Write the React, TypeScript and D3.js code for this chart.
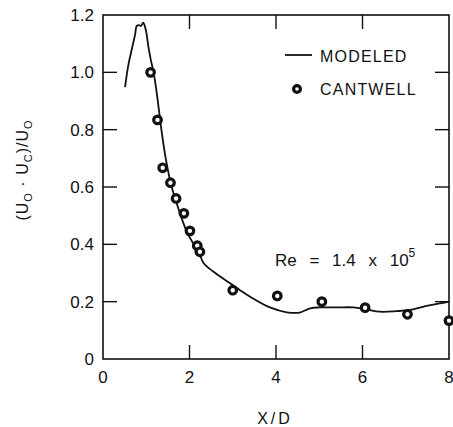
import React from "react";
import * as d3 from "d3";

// Modeled centreline velocity deficit (X/D, value)
const modeledX = [0.51, 0.58, 0.66, 0.74, 0.78, 0.83, 0.88, 0.93, 0.99, 1.05, 1.11, 1.17, 1.25, 1.35, 1.45, 1.58, 1.7, 1.82, 1.95, 2.1, 2.22, 2.32, 2.55, 2.94, 3.17, 3.47, 3.86, 4.25, 4.55, 4.79, 5.02, 5.4, 5.79, 6.09, 6.4, 6.79, 7.1, 7.48, 7.79, 8.0];
const modeledY = [0.948, 1.02, 1.077, 1.13, 1.162, 1.165, 1.162, 1.173, 1.148, 1.089, 1.04, 1.0, 0.92, 0.8, 0.7, 0.605, 0.545, 0.49, 0.44, 0.4, 0.372, 0.336, 0.305, 0.264, 0.24, 0.211, 0.18, 0.163, 0.162, 0.177, 0.18, 0.18, 0.18, 0.173, 0.165, 0.167, 0.171, 0.185, 0.194, 0.2];

// Cantwell measurements
const cantwellX = [1.1, 1.26, 1.38, 1.56, 1.69, 1.87, 2.01, 2.18, 2.24, 3.0, 4.03, 5.06, 6.06, 7.04, 8.0];
const cantwellY = [1.0, 0.834, 0.667, 0.615, 0.56, 0.508, 0.447, 0.395, 0.374, 0.24, 0.22, 0.2, 0.179, 0.156, 0.134];

const xTicks = [0, 2, 4, 6, 8];
const yTicks = [0, 0.2, 0.4, 0.6, 0.8, 1.0, 1.2];
const xTickLabels = ["0", "2", "4", "6", "8"];
const yTickLabels = ["0", "0.2", "0.4", "0.6", "0.8", "1.0", "1.2"];

const W = 453;
const H = 427;
const font = "'Liberation Sans', Arial, Helvetica, sans-serif";

export default function App() {
  const x = d3.scaleLinear().domain([0, 8]).range([103, 449]);
  const y = d3.scaleLinear().domain([0, 1.2]).range([359, 15]);

  const modeled = modeledX.map((v, i) => [v, modeledY[i]] as [number, number]);
  const line = d3
    .line<[number, number]>()
    .x((d) => x(d[0]))
    .y((d) => y(d[1]))
    .curve(d3.curveCatmullRom.alpha(0.5));

  const innerX = [2, 4, 6];
  const innerY = [0.2, 0.4, 0.6, 0.8, 1.0];
  const tickLen = 14;

  return (
    <svg
      width={W}
      height={H}
      style={{ position: "absolute", left: 0, top: 0, background: "#fff" }}
      fontFamily={font}
    >
      {/* frame */}
      <rect
        x={x(0)}
        y={y(1.2)}
        width={x(8) - x(0)}
        height={y(0) - y(1.2)}
        fill="none"
        stroke="#111"
        strokeWidth={1.6}
      />

      {/* inward ticks */}
      {innerY.map((v) => (
        <g key={"yt" + v}>
          <line x1={x(0)} x2={x(0) + tickLen} y1={y(v)} y2={y(v)} stroke="#111" strokeWidth={1.4} />
          <line x1={x(8)} x2={x(8) - tickLen} y1={y(v)} y2={y(v)} stroke="#111" strokeWidth={1.4} />
        </g>
      ))}
      {innerX.map((v) => (
        <g key={"xt" + v}>
          <line x1={x(v)} x2={x(v)} y1={y(0)} y2={y(0) - tickLen} stroke="#111" strokeWidth={1.4} />
          <line x1={x(v)} x2={x(v)} y1={y(1.2)} y2={y(1.2) + tickLen} stroke="#111" strokeWidth={1.4} />
        </g>
      ))}

      {/* tick labels */}
      {yTicks.map((v, i) => (
        <text key={"yl" + v} x={94} y={y(v) + 6} textAnchor="end" fontSize={17} fill="#111">
          {yTickLabels[i]}
        </text>
      ))}
      {xTicks.map((v, i) => (
        <text key={"xl" + v} x={x(v)} y={383} textAnchor="middle" fontSize={17} fill="#111">
          {xTickLabels[i]}
        </text>
      ))}

      {/* axis titles */}
      <text x={275} y={424} textAnchor="middle" fontSize={16} letterSpacing={3} fill="#111">
        X/D
      </text>
      <text
        transform="translate(28,170) rotate(-90)"
        textAnchor="middle"
        fontSize={16}
        letterSpacing={1}
        fill="#111"
      >
        (U<tspan fontSize={11} dy={4}>O</tspan>
        <tspan dy={-4}> · U</tspan>
        <tspan fontSize={11} dy={4}>C</tspan>
        <tspan dy={-4}>)/U</tspan>
        <tspan fontSize={11} dy={4}>O</tspan>
      </text>

      {/* modeled curve */}
      <path d={line(modeled) ?? ""} fill="none" stroke="#111" strokeWidth={1.8} />

      {/* measurements */}
      {cantwellX.map((v, i) => (
        <circle
          key={"c" + i}
          cx={x(v)}
          cy={y(cantwellY[i])}
          r={3.8}
          fill="#fff"
          stroke="#111"
          strokeWidth={3.2}
        />
      ))}

      {/* legend */}
      <line x1={285} x2={312} y1={55} y2={55} stroke="#111" strokeWidth={1.8} />
      <text x={320} y={62} fontSize={16} letterSpacing={1.2} fill="#111">
        MODELED
      </text>
      <circle cx={297} cy={89} r={3.4} fill="#fff" stroke="#111" strokeWidth={3.2} />
      <text x={320} y={95} fontSize={16} letterSpacing={1.2} fill="#111">
        CANTWELL
      </text>

      {/* Reynolds number annotation */}
      <text x={275} y={266} fontSize={17} wordSpacing={8} fill="#111" xmlSpace="preserve">
        Re = 1.4 x 10<tspan fontSize={12} dy={-9}>5</tspan>
      </text>
    </svg>
  );
}
